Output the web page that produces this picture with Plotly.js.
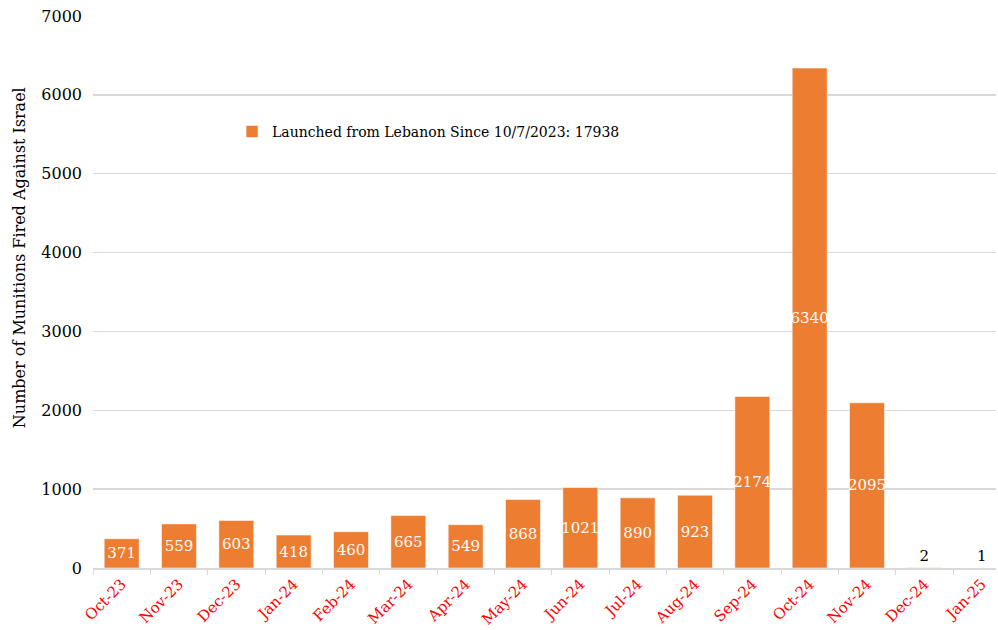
<!DOCTYPE html>
<html>
<head>
<meta charset="utf-8">
<script src="https://cdn.plot.ly/plotly-3.0.1.min.js"></script>
<style>html,body{margin:0;padding:0;background:#fff;overflow:hidden;}#chart{width:998px;height:630px;}</style>
</head>
<body>
<div id="chart"></div>
<script>
const months = ["Oct-23","Nov-23","Dec-23","Jan-24","Feb-24","Mar-24","Apr-24","May-24","Jun-24","Jul-24","Aug-24","Sep-24","Oct-24","Nov-24","Dec-24","Jan-25"];
const munitions = [371,559,603,418,460,665,549,868,1021,890,923,2174,6340,2095,2,1];
const seriesName = "Launched from Lebanon Since 10/7/2023: 17938";
const yTitle = "Number of Munitions Fired Against Israel";

const FONT = "DejaVu Serif, Liberation Serif, serif";
const small = munitions.map(v => v < 100);

const trace = {
  type: "bar",
  x: months,
  y: munitions,
  name: seriesName,
  marker: {color: "#ED7D31", line: {color: "rgba(255,255,255,0.55)", width: 1}},
  text: munitions.map(String),
  textposition: small.map(s => s ? "outside" : "inside"),
  insidetextanchor: "middle",
  textangle: 0,
  constraintext: "none",
  insidetextfont: {family: FONT, size: 15, color: "#ffffff"},
  outsidetextfont: {family: FONT, size: 15, color: "#000000"},
  cliponaxis: false,
  hoverinfo: "x+y"
};

const layout = {
  width: 998, height: 630,
  margin: {l: 93, r: 2, t: 16, b: 62},
  paper_bgcolor: "#ffffff",
  plot_bgcolor: "#ffffff",
  font: {family: FONT, size: 14, color: "#000"},
  bargap: 0.39,
  showlegend: true,
  legend: {x: 0.154, y: 0.79, xanchor: "left", yanchor: "middle", bgcolor: "rgba(0,0,0,0)",
           font: {family: FONT, size: 14, color: "#000"}},
  xaxis: {
    type: "category",
    range: [-0.5, 15.25],
    tickangle: -45,
    tickfont: {family: FONT, size: 15, color: "#FF0000"},
    showline: true, linecolor: "#d9d9d9", linewidth: 1.5,
    ticks: "outside", tickson: "boundaries", ticklen: 5, tickcolor: "#d9d9d9",
    showgrid: false, zeroline: false
  },
  yaxis: {
    range: [0, 7000],
    dtick: 1000,
    tickfont: {family: FONT, size: 16, color: "#000"},
    showgrid: true, gridcolor: "#d9d9d9", gridwidth: 1.5,
    zeroline: false, showline: false,
    ticklabelstandoff: 10
  },
  annotations: [{
    text: yTitle, textangle: -90,
    xref: "paper", yref: "paper", x: -0.082, y: 0.563,
    xanchor: "center", yanchor: "middle", showarrow: false,
    font: {family: FONT, size: 16, color: "#000"}
  }]
};

Plotly.newPlot("chart", [trace], layout, {displayModeBar: false, staticPlot: true});
</script>
</body>
</html>
